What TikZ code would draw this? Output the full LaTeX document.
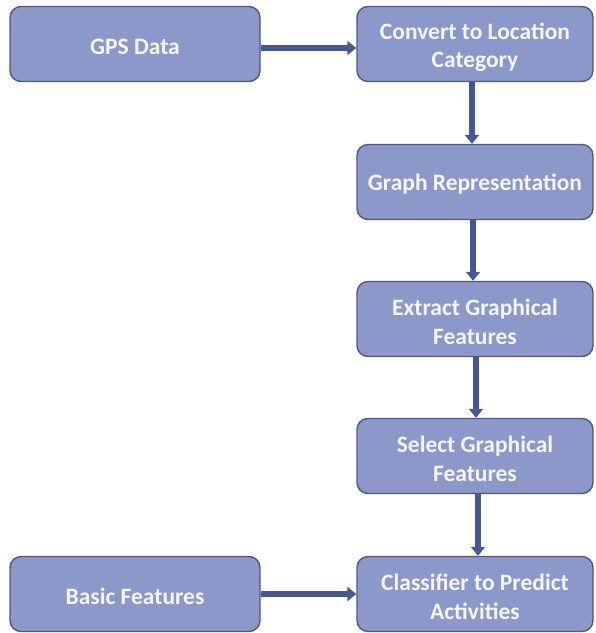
\documentclass[tikz,border=0pt]{standalone}
\usepackage{fontspec}
\setmainfont{Carlito}
\usetikzlibrary{arrows.meta}
\definecolor{boxfill}{RGB}{140,152,201}
\definecolor{boxline}{RGB}{80,88,130}
\definecolor{arrowc}{RGB}{70,86,150}
\definecolor{txt}{RGB}{246,246,248}
\tikzset{
  procbox/.style={draw=boxline, line width=1.4pt, fill=boxfill, rounded corners=11pt,
    minimum width=236pt, minimum height=75pt, inner sep=0pt},
  widebox/.style={procbox, minimum width=250pt},
  boxtext/.style={align=center, text=txt, inner sep=0pt,
    font=\fontsize{23.5}{28.5}\selectfont\bfseries},
  flow/.style={draw=arrowc, line width=5.5pt, -{Triangle[width=14pt,length=9pt]}}
}
\begin{document}
\begin{tikzpicture}[x=1pt,y=-1pt]
\useasboundingbox (0,0) rectangle (596,633);
\node[widebox] (gps) at (135,44) {};
\node[procbox] (conv) at (475,44) {};
\node[procbox] (graph) at (475,182) {};
\node[procbox] (extract) at (475,319) {};
\node[procbox] (select) at (475,456) {};
\node[procbox] (class) at (475,594) {};
\node[widebox] (basic) at (135,594) {};
\node[boxtext] (gpst) at ([yshift=-3pt]gps.center) {GPS Data};
\node[boxtext] (convt) at ([yshift=-3pt]conv.center) {Convert to Location\\Category};
\node[boxtext] (grapht) at ([yshift=-2pt]graph.center) {Graph Representation};
\node[boxtext] (extractt) at ([yshift=-3pt]extract.center) {Extract Graphical\\Features};
\node[boxtext] (selectt) at ([yshift=-3pt]select.center) {Select Graphical\\Features};
\node[boxtext] (classt) at ([yshift=-3pt]class.center) {Classifier to Predict\\Activities};
\node[boxtext] (basict) at ([yshift=-2pt]basic.center) {Basic Features};
\draw[flow] ([yshift=-4pt]gps.east) -- ([yshift=-4pt]conv.west);
\draw[flow] ([xshift=-3pt]conv.south) -- ([xshift=-3pt]graph.north);
\draw[flow] ([xshift=-2pt]graph.south) -- ([xshift=-2pt]extract.north);
\draw[flow] ([xshift=1pt]extract.south) -- ([xshift=1pt]select.north);
\draw[flow] ([xshift=3pt]select.south) -- ([xshift=3pt]class.north);
\draw[flow] (basic.east) -- (class.west);
\end{tikzpicture}
\end{document}
